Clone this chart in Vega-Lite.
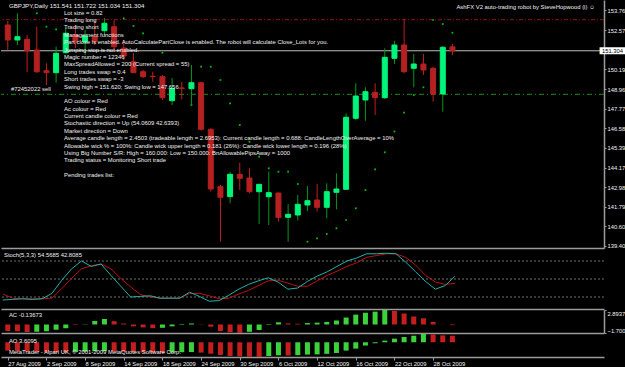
{
  "$schema": "https://vega.github.io/schema/vega-lite/v6.json",
  "background": "#000000",
  "padding": 0,
  "spacing": 1,
  "bounds": "flush",
  "config": {
    "view": {"stroke": null},
    "font": "Liberation Sans",
    "axis": {"labelFont": "Liberation Sans", "labelFontSize": 5.8, "labelColor": "#f4f4f4", "domainColor": "#9c9c9c", "tickColor": "#9c9c9c", "grid": false},
    "axisX": {"labels": false, "ticks": false, "domainWidth": 1.5},
    "axisY": {"domainWidth": 1.5, "tickSize": 2, "labelPadding": 1},
    "text": {"font": "Liberation Sans", "fontSize": 5.9, "color": "#f0f0f0"}
  },
  "datasets": {
    "candles": [
      {"i":0,"date":"2009-08-27","o":152.876,"h":153.120,"l":151.351,"c":151.961},
      {"i":1,"date":"2009-08-28","o":151.961,"h":153.589,"l":151.656,"c":152.162},
      {"i":2,"date":"2009-08-31","o":152.004,"h":152.266,"l":150.010,"c":151.309},
      {"i":3,"date":"2009-09-01","o":151.351,"h":152.772,"l":149.949,"c":150.028},
      {"i":4,"date":"2009-09-02","o":150.089,"h":150.540,"l":149.217,"c":149.967},
      {"i":5,"date":"2009-09-03","o":149.967,"h":151.552,"l":149.357,"c":151.150},
      {"i":6,"date":"2009-09-04","o":151.187,"h":152.693,"l":151.150,"c":152.370},
      {"i":7,"date":"2009-09-07","o":152.266,"h":152.876,"l":151.473,"c":151.839},
      {"i":8,"date":"2009-09-08","o":151.839,"h":152.571,"l":151.046,"c":152.205},
      {"i":9,"date":"2009-09-09","o":152.162,"h":153.180,"l":151.656,"c":151.857},
      {"i":10,"date":"2009-09-10","o":152.528,"h":153.302,"l":152.266,"c":152.979},
      {"i":11,"date":"2009-09-11","o":152.772,"h":153.180,"l":151.229,"c":151.552},
      {"i":12,"date":"2009-09-14","o":151.473,"h":151.961,"l":150.741,"c":150.985},
      {"i":13,"date":"2009-09-15","o":150.638,"h":151.168,"l":149.949,"c":149.967},
      {"i":14,"date":"2009-09-16","o":150.028,"h":150.133,"l":149.644,"c":149.723},
      {"i":15,"date":"2009-09-17","o":149.748,"h":150.028,"l":149.418,"c":149.723},
      {"i":16,"date":"2009-09-18","o":149.723,"h":149.827,"l":148.302,"c":148.443},
      {"i":17,"date":"2009-09-21","o":148.260,"h":149.644,"l":147.998,"c":149.016},
      {"i":18,"date":"2009-09-22","o":149.034,"h":149.418,"l":148.345,"c":149.016},
      {"i":19,"date":"2009-09-23","o":148.991,"h":150.437,"l":147.998,"c":149.357},
      {"i":20,"date":"2009-09-24","o":149.357,"h":149.418,"l":146.430,"c":146.516},
      {"i":21,"date":"2009-09-25","o":146.516,"h":146.577,"l":142.711,"c":142.876},
      {"i":22,"date":"2009-09-28","o":143.016,"h":143.119,"l":139.662,"c":142.369},
      {"i":23,"date":"2009-09-29","o":142.406,"h":143.930,"l":142.004,"c":143.772},
      {"i":24,"date":"2009-09-30","o":143.772,"h":144.479,"l":142.815,"c":143.528},
      {"i":25,"date":"2009-10-01","o":143.546,"h":144.138,"l":142.613,"c":142.711},
      {"i":26,"date":"2009-10-02","o":142.711,"h":143.162,"l":140.741,"c":143.162},
      {"i":27,"date":"2009-10-05","o":142.406,"h":143.930,"l":140.680,"c":142.650},
      {"i":28,"date":"2009-10-06","o":142.632,"h":142.650,"l":140.882,"c":141.138},
      {"i":29,"date":"2009-10-07","o":141.150,"h":141.943,"l":139.662,"c":141.333},
      {"i":30,"date":"2009-10-08","o":141.290,"h":142.510,"l":140.955,"c":141.943},
      {"i":31,"date":"2009-10-09","o":141.900,"h":143.058,"l":141.534,"c":142.162},
      {"i":32,"date":"2009-10-12","o":142.205,"h":143.180,"l":141.491,"c":141.760},
      {"i":33,"date":"2009-10-13","o":141.760,"h":143.223,"l":141.089,"c":142.711},
      {"i":34,"date":"2009-10-14","o":142.674,"h":143.833,"l":141.638,"c":142.876},
      {"i":35,"date":"2009-10-15","o":142.857,"h":147.491,"l":142.815,"c":147.248},
      {"i":36,"date":"2009-10-16","o":147.187,"h":149.321,"l":147.083,"c":148.546},
      {"i":37,"date":"2009-10-19","o":148.302,"h":149.077,"l":147.040,"c":148.808},
      {"i":38,"date":"2009-10-20","o":148.772,"h":149.321,"l":147.388,"c":148.443},
      {"i":39,"date":"2009-10-21","o":148.443,"h":151.455,"l":148.363,"c":150.906},
      {"i":40,"date":"2009-10-22","o":150.845,"h":151.918,"l":150.498,"c":151.656},
      {"i":41,"date":"2009-10-23","o":151.656,"h":153.223,"l":149.931,"c":150.028},
      {"i":42,"date":"2009-10-26","o":150.235,"h":151.107,"l":149.077,"c":150.498},
      {"i":43,"date":"2009-10-27","o":150.498,"h":151.107,"l":149.827,"c":150.132},
      {"i":44,"date":"2009-10-28","o":150.235,"h":150.333,"l":148.199,"c":148.668},
      {"i":45,"date":"2009-10-29","o":148.668,"h":151.595,"l":147.589,"c":151.516},
      {"i":46,"date":"2009-10-30","o":151.541,"h":151.722,"l":151.034,"c":151.304}
    ],
    "sar": [
      {"i":3,"sar":153.589},{"i":4,"sar":152.772},{"i":5,"sar":152.613},
      {"i":12,"sar":153.284},{"i":13,"sar":152.815},{"i":14,"sar":152.370},{"i":16,"sar":151.187},
      {"i":19,"sar":147.998},{"i":20,"sar":150.333},{"i":21,"sar":150.333},{"i":22,"sar":149.522},
      {"i":23,"sar":148.101},{"i":24,"sar":146.778},{"i":25,"sar":145.760},{"i":26,"sar":144.845},
      {"i":27,"sar":144.138},{"i":28,"sar":143.930},{"i":29,"sar":143.930},{"i":30,"sar":143.180},
      {"i":31,"sar":139.662},{"i":32,"sar":139.869},{"i":33,"sar":140.131},{"i":34,"sar":140.479},
      {"i":35,"sar":140.985},{"i":36,"sar":141.699},{"i":37,"sar":142.815},{"i":38,"sar":144.077},
      {"i":39,"sar":145.113},{"i":40,"sar":146.382},{"i":41,"sar":147.528},{"i":42,"sar":148.607},
      {"i":43,"sar":149.077},{"i":44,"sar":153.180},{"i":45,"sar":152.937},{"i":46,"sar":152.406}
    ],
    "ind": [
      {"i":0,"k":15,"d":25,"ac":-1.30,"acdir":"down","ao":-4.6,"aodir":"down"},
      {"i":1,"k":16,"d":18,"ac":-1.35,"acdir":"down","ao":-4.9,"aodir":"down"},
      {"i":2,"k":17,"d":17,"ac":-1.50,"acdir":"down","ao":-5.1,"aodir":"down"},
      {"i":3,"k":16,"d":17,"ac":-1.45,"acdir":"up","ao":-5.3,"aodir":"down"},
      {"i":4,"k":17,"d":17,"ac":-1.35,"acdir":"up","ao":-5.5,"aodir":"down"},
      {"i":5,"k":26,"d":18,"ac":-1.05,"acdir":"up","ao":-5.6,"aodir":"down"},
      {"i":6,"k":48,"d":34,"ac":-0.75,"acdir":"up","ao":-5.7,"aodir":"down"},
      {"i":7,"k":67,"d":51,"ac":-0.10,"acdir":"down","ao":-5.4,"aodir":"up"},
      {"i":8,"k":80,"d":67,"ac":0.05,"acdir":"up","ao":-5.2,"aodir":"up"},
      {"i":9,"k":71,"d":72,"ac":0.70,"acdir":"up","ao":-5.0,"aodir":"up"},
      {"i":10,"k":75,"d":75,"ac":1.10,"acdir":"up","ao":-4.9,"aodir":"up"},
      {"i":11,"k":56,"d":67,"ac":0.66,"acdir":"down","ao":-5.1,"aodir":"down"},
      {"i":12,"k":38,"d":51,"ac":0.20,"acdir":"down","ao":-5.3,"aodir":"down"},
      {"i":13,"k":20,"d":37,"ac":-0.37,"acdir":"down","ao":-5.5,"aodir":"down"},
      {"i":14,"k":21,"d":24,"ac":-0.58,"acdir":"down","ao":-5.7,"aodir":"down"},
      {"i":15,"k":22,"d":20,"ac":-0.73,"acdir":"down","ao":-5.8,"aodir":"down"},
      {"i":16,"k":18,"d":18,"ac":-0.66,"acdir":"up","ao":-5.9,"aodir":"down"},
      {"i":17,"k":18,"d":18,"ac":-0.37,"acdir":"up","ao":-5.7,"aodir":"up"},
      {"i":18,"k":18,"d":18,"ac":-0.10,"acdir":"up","ao":-5.5,"aodir":"up"},
      {"i":19,"k":28,"d":26,"ac":0.20,"acdir":"up","ao":-5.4,"aodir":"up"},
      {"i":20,"k":21,"d":26,"ac":0.05,"acdir":"down","ao":-5.7,"aodir":"down"},
      {"i":21,"k":13,"d":22,"ac":-0.44,"acdir":"down","ao":-6.3,"aodir":"down"},
      {"i":22,"k":14,"d":17,"ac":-1.31,"acdir":"down","ao":-7.0,"aodir":"down"},
      {"i":23,"k":23,"d":18,"ac":-1.55,"acdir":"down","ao":-7.6,"aodir":"down"},
      {"i":24,"k":33,"d":25,"ac":-1.70062,"acdir":"down","ao":-7.8,"aodir":"down"},
      {"i":25,"k":41,"d":31,"ac":-1.46,"acdir":"up","ao":-8.0,"aodir":"down"},
      {"i":26,"k":47,"d":39,"ac":-1.10,"acdir":"up","ao":-8.1356,"aodir":"down"},
      {"i":27,"k":52,"d":47,"ac":-0.10,"acdir":"up","ao":-7.6,"aodir":"up"},
      {"i":28,"k":45,"d":48,"ac":0.44,"acdir":"up","ao":-7.2,"aodir":"up"},
      {"i":29,"k":33,"d":43,"ac":0.22,"acdir":"down","ao":-7.3,"aodir":"down"},
      {"i":30,"k":35,"d":38,"ac":0.15,"acdir":"down","ao":-7.1,"aodir":"up"},
      {"i":31,"k":46,"d":38,"ac":0.29,"acdir":"up","ao":-6.8,"aodir":"up"},
      {"i":32,"k":55,"d":47,"ac":0.37,"acdir":"up","ao":-6.7,"aodir":"up"},
      {"i":33,"k":62,"d":56,"ac":0.51,"acdir":"up","ao":-6.4,"aodir":"up"},
      {"i":34,"k":71,"d":63,"ac":0.80,"acdir":"up","ao":-5.9,"aodir":"up"},
      {"i":35,"k":80,"d":71,"ac":1.39,"acdir":"up","ao":-4.6,"aodir":"up"},
      {"i":36,"k":85,"d":77,"ac":1.97,"acdir":"up","ao":-3.5,"aodir":"up"},
      {"i":37,"k":92,"d":86,"ac":2.34,"acdir":"up","ao":-1.8,"aodir":"up"},
      {"i":38,"k":92,"d":89,"ac":2.56,"acdir":"up","ao":-0.55,"aodir":"up"},
      {"i":39,"k":93,"d":92,"ac":2.89379,"acdir":"up","ao":0.9,"aodir":"up"},
      {"i":40,"k":92,"d":92,"ac":2.70,"acdir":"down","ao":2.0,"aodir":"up"},
      {"i":41,"k":78,"d":86,"ac":2.19,"acdir":"down","ao":2.9,"aodir":"up"},
      {"i":42,"k":62,"d":73,"ac":1.60,"acdir":"down","ao":3.6,"aodir":"up"},
      {"i":43,"k":46,"d":56,"ac":1.24,"acdir":"down","ao":4.5588,"aodir":"up"},
      {"i":44,"k":33,"d":45,"ac":0.51,"acdir":"down","ao":4.3,"aodir":"down"},
      {"i":45,"k":39,"d":41,"ac":0.02,"acdir":"down","ao":3.8,"aodir":"down"},
      {"i":46,"k":54.5685,"d":42.8085,"ac":-0.13673,"acdir":"down","ao":3.6095,"aodir":"down"}
    ],
    "comment": [
      {"line":0,"t":"Lot size = 0.82"},
      {"line":1,"t":"Trading long"},
      {"line":2,"t":"Trading short"},
      {"line":3,"t":"Management functions"},
      {"line":4,"t":"\u00a0\u00a0\u00a0\u00a0\u00a0\u00a0Part close is enabled. AutoCalculatePartClose is enabled. The robot will calculate Close_Lots for you."},
      {"line":5,"t":"\u00a0\u00a0\u00a0\u00a0\u00a0\u00a0Jumping stop is not enabled."},
      {"line":6,"t":"Magic number = 12346"},
      {"line":7,"t":"MaxSpreadAllowed = 200 (Current spread = 55)"},
      {"line":8,"t":"Long trades swap = 0.4"},
      {"line":9,"t":"Short trades swap = -3"},
      {"line":10,"t":"Swing high = 151.620; Swing low = 147.656"},
      {"line":12,"t":"AO colour = Red"},
      {"line":13,"t":"Ac colour = Red"},
      {"line":14,"t":"Current candle colour = Red"},
      {"line":15,"t":"Stochastic direction = Up (54.0609 42.6393)"},
      {"line":16,"t":"Market direction = Down"},
      {"line":17,"t":"Average candle length = 2.4503 (tradeable length = 2.6953): Current candle length = 0.688: CandleLengthOverAverage = 10%"},
      {"line":18,"t":"Allowable wick % = 100%: Candle wick upper length = 0.181 (26%): Candle wick lower length = 0.196 (28%)"},
      {"line":19,"t":"Using Big Number S/R: High = 160.000: Low = 150.000: BnAllowablePipsAway = 1000"},
      {"line":20,"t":"Trading status = Monitoring Short trade"},
      {"line":22,"t":"Pending trades list:"}
    ]
  },
  "vconcat": [
    {
      "width": 603,
      "height": 248,
      "resolve": {"scale": {"y": "independent"}},
      "layer": [
        {
          "data": {"values": [{"p": 151.304}]},
          "mark": {"type": "rule", "color": "#bdbdbd", "strokeWidth": 1},
          "encoding": {"y": {"field": "p", "type": "quantitative", "title": null, "axis": null, "scale": {"domain": [139.278, 154.4], "nice": false, "zero": false}}}
        },
        {
          "data": {"values": [{"p": 153.2}]},
          "mark": {"type": "rule", "color": "#9a1010", "strokeWidth": 1, "strokeDash": [4, 2, 1, 2]},
          "encoding": {"y": {"field": "p", "type": "quantitative", "title": null, "axis": null, "scale": {"domain": [139.278, 154.4], "nice": false, "zero": false}}}
        },
        {
          "data": {"values": [{"p": 148.65}]},
          "mark": {"type": "rule", "color": "#1c8c1c", "strokeWidth": 1, "strokeDash": [5, 3, 1, 3]},
          "encoding": {"y": {"field": "p", "type": "quantitative", "title": null, "axis": null, "scale": {"domain": [139.278, 154.4], "nice": false, "zero": false}}}
        },
        {
          "data": {"name": "sar"},
          "mark": {"type": "square", "size": 3, "color": "#00c800", "opacity": 1},
          "encoding": {
            "x": {"field": "i", "type": "quantitative", "title": null, "scale": {"domain": [-0.183, 61.16], "nice": false, "zero": false}},
            "y": {"field": "sar", "type": "quantitative", "title": null, "axis": null, "scale": {"domain": [139.278, 154.4], "nice": false, "zero": false}}
          }
        },
        {
          "data": {"name": "candles"},
          "mark": {"type": "rule", "strokeWidth": 1, "clip": true},
          "encoding": {
            "x": {"field": "i", "type": "quantitative", "title": null, "scale": {"domain": [-0.183, 61.16], "nice": false, "zero": false}},
            "y": {"field": "l", "type": "quantitative", "title": null, "scale": {"domain": [139.278, 154.4], "nice": false, "zero": false},
                  "axis": {"orient": "right", "values": [153.76, 152.57, 150.19, 148.965, 147.775, 146.585, 145.395, 144.17, 142.98, 141.79, 140.6, 139.4], "format": ".3f", "labelOverlap": false, "labelFlush": false}},
            "y2": {"field": "h"},
            "color": {"condition": {"test": "datum.c >= datum.o", "value": "#009a1a"}, "value": "#c41e1e"}
          }
        },
        {
          "data": {"name": "candles"},
          "mark": {"type": "bar", "width": 5, "strokeWidth": 1, "clip": true},
          "encoding": {
            "x": {"field": "i", "type": "quantitative", "title": null, "scale": {"domain": [-0.183, 61.16], "nice": false, "zero": false}},
            "y": {"field": "o", "type": "quantitative", "title": null, "axis": null, "scale": {"domain": [139.278, 154.4], "nice": false, "zero": false}},
            "y2": {"field": "c"},
            "fill": {"condition": {"test": "datum.c >= datum.o", "value": "#00f57a"}, "value": "#b52020"},
            "stroke": {"condition": {"test": "datum.c >= datum.o", "value": "#00f57a"}, "value": "#b52020"}
          }
        },
        {
          "data": {"values": [{"p": 151.304}]},
          "mark": {"type": "rect", "color": "#ffffff", "clip": false},
          "encoding": {
            "x": {"datum": 61.22, "type": "quantitative", "scale": {"domain": [-0.183, 61.16], "nice": false, "zero": false}},
            "x2": {"datum": 64.2},
            "y": {"datum": 151.52, "type": "quantitative", "axis": null, "scale": {"domain": [139.278, 154.4], "nice": false, "zero": false}},
            "y2": {"datum": 151.09}
          }
        },
        {
          "data": {"values": [{"p": 151.304, "t": "151.304"}]},
          "mark": {"type": "text", "align": "left", "baseline": "middle", "color": "#000000", "fontSize": 5.8},
          "encoding": {
            "x": {"datum": 61.47, "type": "quantitative", "scale": {"domain": [-0.183, 61.16], "nice": false, "zero": false}},
            "y": {"field": "p", "type": "quantitative", "title": null, "axis": null, "scale": {"domain": [139.278, 154.4], "nice": false, "zero": false}},
            "text": {"field": "t"}
          }
        },
        {
          "data": {"values": [{"p": 148.65, "t": "#72452022 sell"}]},
          "mark": {"type": "text", "align": "left", "baseline": "bottom", "dy": -2.5, "fontSize": 5.9, "color": "#f0f0f0"},
          "encoding": {
            "x": {"datum": 0.33, "type": "quantitative", "scale": {"domain": [-0.183, 61.16], "nice": false, "zero": false}},
            "y": {"field": "p", "type": "quantitative", "title": null, "axis": null, "scale": {"domain": [139.278, 154.4], "nice": false, "zero": false}},
            "text": {"field": "t"}
          }
        },
        {
          "data": {"values": [{"t": "GBPJPY,Daily  151.541 151.722 151.034 151.304"}]},
          "mark": {"type": "text", "align": "left", "baseline": "middle", "fontSize": 6.2, "color": "#f0f0f0"},
          "encoding": {
            "x": {"datum": 0.12, "type": "quantitative", "scale": {"domain": [-0.183, 61.16], "nice": false, "zero": false}},
            "y": {"datum": 154.03, "type": "quantitative", "axis": null, "scale": {"domain": [139.278, 154.4], "nice": false, "zero": false}},
            "text": {"field": "t"}
          }
        },
        {
          "data": {"values": [{"t": "AshFX V2 auto-trading robot by SteveHopwood (i) \u263a"}]},
          "mark": {"type": "text", "align": "right", "baseline": "middle", "fontSize": 5.9, "color": "#f0f0f0"},
          "encoding": {
            "x": {"datum": 60.75, "type": "quantitative", "scale": {"domain": [-0.183, 61.16], "nice": false, "zero": false}},
            "y": {"datum": 153.99, "type": "quantitative", "axis": null, "scale": {"domain": [139.278, 154.4], "nice": false, "zero": false}},
            "text": {"field": "t"}
          }
        },
        {
          "data": {"name": "comment"},
          "mark": {"type": "text", "align": "left", "baseline": "middle", "fontSize": 5.9, "color": "#f0f0f0"},
          "encoding": {
            "x": {"datum": 5.82, "type": "quantitative", "scale": {"domain": [-0.183, 61.16], "nice": false, "zero": false}},
            "y": {"field": "line", "type": "quantitative", "title": null, "axis": null, "scale": {"domain": [-1.721, 31.883], "reverse": true, "nice": false, "zero": false}},
            "text": {"field": "t"}
          }
        }
      ]
    },
    {
      "width": 603,
      "height": 60,
      "layer": [
        {
          "data": {"values": [{"lvl": 20}, {"lvl": 50}, {"lvl": 80}]},
          "mark": {"type": "rule", "color": "#8a8a8a", "strokeWidth": 0.8, "strokeDash": [2, 2]},
          "encoding": {"y": {"field": "lvl", "type": "quantitative", "title": null, "axis": null, "scale": {"domain": [0, 100], "nice": false, "zero": false}}}
        },
        {
          "data": {"name": "ind"},
          "mark": {"type": "line", "color": "#c01010", "strokeWidth": 1},
          "encoding": {
            "x": {"field": "i", "type": "quantitative", "title": null, "scale": {"domain": [-0.183, 61.16], "nice": false, "zero": false}},
            "y": {"field": "d", "type": "quantitative", "title": null, "axis": null, "scale": {"domain": [0, 100], "nice": false, "zero": false}}
          }
        },
        {
          "data": {"name": "ind"},
          "mark": {"type": "line", "color": "#20b2aa", "strokeWidth": 1},
          "encoding": {
            "x": {"field": "i", "type": "quantitative", "title": null, "scale": {"domain": [-0.183, 61.16], "nice": false, "zero": false}},
            "y": {"field": "k", "type": "quantitative", "title": null, "scale": {"domain": [0, 100], "nice": false, "zero": false},
                  "axis": {"orient": "right", "values": [0, 20, 50, 80, 100], "format": "d", "labelFlush": true, "labelOverlap": false}}
          }
        },
        {
          "data": {"values": [{"t": "Stoch(5,3,3) 54.5685 42.8085"}]},
          "mark": {"type": "text", "align": "left", "baseline": "middle", "fontSize": 5.9, "color": "#f0f0f0"},
          "encoding": {
            "x": {"datum": 0.12, "type": "quantitative", "scale": {"domain": [-0.183, 61.16], "nice": false, "zero": false}},
            "y": {"datum": 90, "type": "quantitative", "scale": {"domain": [0, 100], "nice": false, "zero": false}},
            "text": {"field": "t"}
          }
        }
      ]
    },
    {
      "width": 603,
      "height": 23,
      "layer": [
        {
          "data": {"name": "ind"},
          "mark": {"type": "bar", "width": 5, "clip": true},
          "encoding": {
            "x": {"field": "i", "type": "quantitative", "title": null, "scale": {"domain": [-0.183, 61.16], "nice": false, "zero": false}},
            "y": {"field": "ac", "type": "quantitative", "title": null, "scale": {"domain": [-1.70062, 2.89379], "nice": false, "zero": false},
                  "axis": {"orient": "right", "values": [-1.70062, 0, 2.89379], "labelExpr": "datum.value == 0 ? '0.00' : format(datum.value, '.5f')", "labelFlush": true, "labelOverlap": false}},
            "y2": {"datum": 0},
            "color": {"field": "acdir", "type": "nominal", "legend": null, "scale": {"domain": ["up", "down"], "range": ["#3cd23c", "#c41e1e"]}}
          }
        },
        {
          "data": {"values": [{"t": "AC -0.13673"}]},
          "mark": {"type": "text", "align": "left", "baseline": "middle", "fontSize": 5.9, "color": "#f0f0f0"},
          "encoding": {
            "x": {"datum": 0.12, "type": "quantitative", "scale": {"domain": [-0.183, 61.16], "nice": false, "zero": false}},
            "y": {"datum": 1.95, "type": "quantitative", "scale": {"domain": [-1.70062, 2.89379], "nice": false, "zero": false}},
            "text": {"field": "t"}
          }
        }
      ]
    },
    {
      "width": 603,
      "height": 23,
      "layer": [
        {
          "data": {"name": "ind"},
          "mark": {"type": "bar", "width": 5, "clip": true},
          "encoding": {
            "x": {"field": "i", "type": "quantitative", "title": null, "scale": {"domain": [-0.183, 61.16], "nice": false, "zero": false},
                  "axis": {"labels": true, "ticks": true, "tickSize": 3, "labelPadding": 0.5, "labelAlign": "left", "labelBaseline": "top", "labelFlush": false, "labelOverlap": false, "labelBound": false,
                           "values": [0, 4, 8, 12, 16, 20, 24, 28, 32, 36, 40, 44],
                           "labelExpr": "['27 Aug 2009','2 Sep 2009','8 Sep 2009','14 Sep 2009','18 Sep 2009','24 Sep 2009','30 Sep 2009','6 Oct 2009','12 Oct 2009','16 Oct 2009','22 Oct 2009','28 Oct 2009'][round(datum.value / 4)]"}},
            "y": {"field": "ao", "type": "quantitative", "title": null, "scale": {"domain": [-8.1356, 4.5588], "nice": false, "zero": false},
                  "axis": {"orient": "right", "values": [-8.1356, 0, 4.5588], "labelExpr": "datum.value == 0 ? '0.00' : format(datum.value, '.4f')", "labelFlush": true, "labelOverlap": false}},
            "y2": {"datum": 0},
            "color": {"field": "aodir", "type": "nominal", "legend": null, "scale": {"domain": ["up", "down"], "range": ["#3cd23c", "#c41e1e"]}}
          }
        },
        {
          "data": {"values": [{"t": "AO 3.6095", "v": 0.97}, {"t": "MetaTrader - Alpari UK, \u00a9 2001-2009 MetaQuotes Software Corp.", "v": -5.54}]},
          "mark": {"type": "text", "align": "left", "baseline": "middle", "fontSize": 5.9, "color": "#f0f0f0"},
          "encoding": {
            "x": {"datum": 0.12, "type": "quantitative", "scale": {"domain": [-0.183, 61.16], "nice": false, "zero": false}},
            "y": {"field": "v", "type": "quantitative", "title": null, "axis": null, "scale": {"domain": [-8.1356, 4.5588], "nice": false, "zero": false}},
            "text": {"field": "t"}
          }
        }
      ]
    }
  ]
}
